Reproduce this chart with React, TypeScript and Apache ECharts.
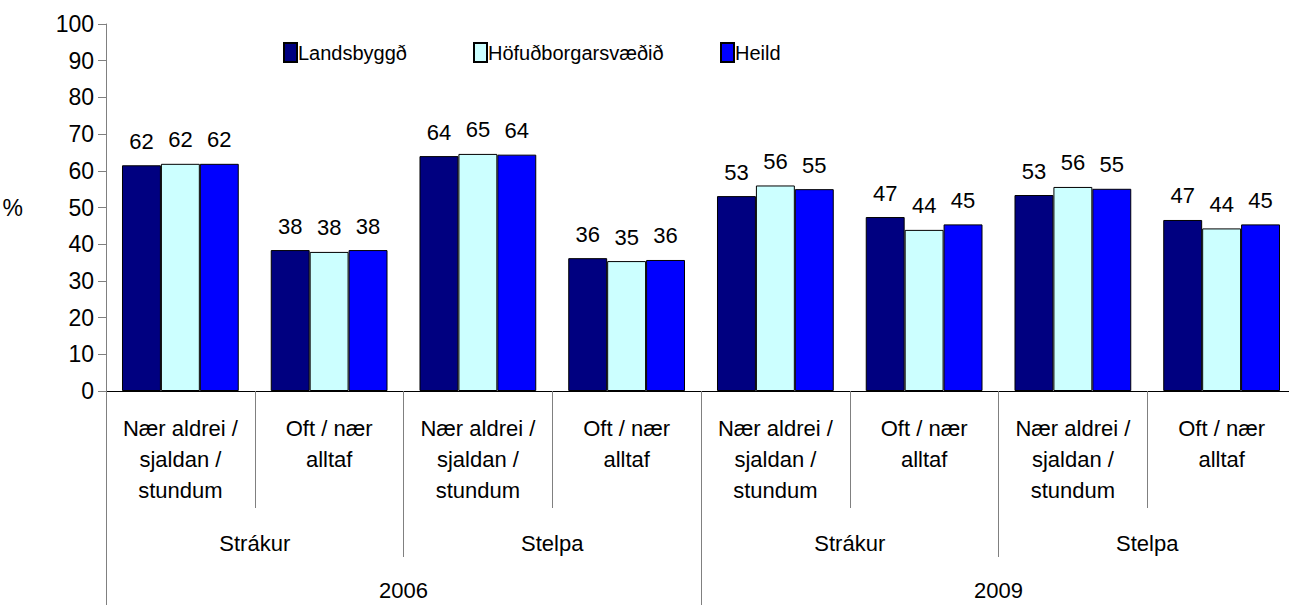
import React, { useEffect, useRef } from "react";
import * as echarts from "echarts";

const categories = [
  "Nær aldrei /\nsjaldan /\nstundum",
  "Oft / nær\nalltaf",
  "Nær aldrei /\nsjaldan /\nstundum",
  "Oft / nær\nalltaf",
  "Nær aldrei /\nsjaldan /\nstundum",
  "Oft / nær\nalltaf",
  "Nær aldrei /\nsjaldan /\nstundum",
  "Oft / nær\nalltaf",
];
const genders = ["Strákur", "Stelpa", "Strákur", "Stelpa"];
const years = ["2006", "2009"];
const seriesNames = ["Landsbyggð", "Höfuðborgarsvæðið", "Heild"];
const landsbyggd = [61.5, 38.4, 64.0, 36.2, 53.1, 47.4, 53.4, 46.6];
const hofudborg = [61.9, 37.9, 64.6, 35.4, 56.0, 43.9, 55.6, 44.3];
const heild = [61.9, 38.4, 64.4, 35.7, 55.0, 45.4, 55.1, 45.4];
const yTicks = { min: 0, max: 100, interval: 10 };

const FONT = "Liberation Sans, Arial, sans-serif";

export default function App() {
  const ref = useRef<HTMLDivElement>(null);
  useEffect(() => {
    if (!ref.current) return;
    const chart = echarts.init(ref.current, null, { renderer: "svg" });
    const colors = ["#000080", "#CCFFFF", "#0000FF"];
    const values = [landsbyggd, hofudborg, heild];
    const legendLeft = [283, 473, 720];
    chart.setOption({
      animation: false,
      textStyle: { fontFamily: FONT, color: "#000" },
      legend: seriesNames.map((n, i) => ({
        data: [n],
        left: legendLeft[i],
        top: 42,
        itemWidth: 13,
        itemHeight: 19,
        itemGap: 0,
        padding: 0,
        icon: "rect",
        textStyle: { fontSize: 20, fontFamily: FONT, color: "#000", padding: [0, 0, 0, -4] },
      })),
      grid: { left: 106, top: 24, bottom: 214, width: 1190, containLabel: false, outerBoundsMode: "none" },
      yAxis: {
        type: "value",
        min: yTicks.min,
        max: yTicks.max,
        interval: yTicks.interval,
        name: "%",
        nameLocation: "middle",
        nameRotate: 0,
        nameGap: 83,
        nameTextStyle: { fontSize: 23, color: "#000", fontFamily: FONT, padding: [0, 0, 16, 0] },
        axisLine: { show: true, lineStyle: { color: "#808080", width: 1 } },
        axisTick: { show: true, length: 8, lineStyle: { color: "#808080" } },
        splitLine: { show: false },
        axisLabel: { fontSize: 23, color: "#000", margin: 12, fontFamily: FONT },
      },
      xAxis: [
        {
          type: "category",
          data: categories,
          position: "bottom",
          axisLine: { show: true, onZero: false, lineStyle: { color: "#000", width: 1 } },
          axisTick: { show: true, length: 117, interval: 0, lineStyle: { color: "#808080" } },
          axisLabel: {
            interval: 0,
            fontSize: 22,
            lineHeight: 31,
            margin: 22,
            color: "#000",
            fontFamily: FONT,
          },
        },
        {
          type: "category",
          data: genders,
          position: "bottom",
          gridIndex: 0,
          axisLine: { show: false },
          axisTick: { show: true, length: 166, interval: 0, lineStyle: { color: "#808080" } },
          axisLabel: { interval: 0, fontSize: 22, lineHeight: 24, margin: 140, color: "#000", fontFamily: FONT },
        },
        {
          type: "category",
          data: years,
          position: "bottom",
          gridIndex: 0,
          axisLine: { show: false },
          axisTick: { show: true, length: 220, interval: 0, lineStyle: { color: "#808080" } },
          axisLabel: { interval: 0, fontSize: 22, lineHeight: 24, margin: 187, color: "#000", fontFamily: FONT },
        },
      ],
      series: seriesNames.map((n, i) => ({
        name: n,
        type: "bar",
        xAxisIndex: 0,
        data: values[i],
        barGap: "0%",
        barCategoryGap: "21.5%",
        itemStyle: { color: colors[i], borderColor: "#000", borderWidth: 1 },
        label: {
          show: true,
          position: "top",
          distance: 13,
          fontSize: 22,
          color: "#000",
          fontFamily: FONT,
          formatter: (p: any) => String(Math.round(p.value)),
        },
      })),
    });
    return () => chart.dispose();
  }, []);
  return <div ref={ref} style={{ width: 1289, height: 605, position: "absolute", left: 0, top: 0 }} />;
}
